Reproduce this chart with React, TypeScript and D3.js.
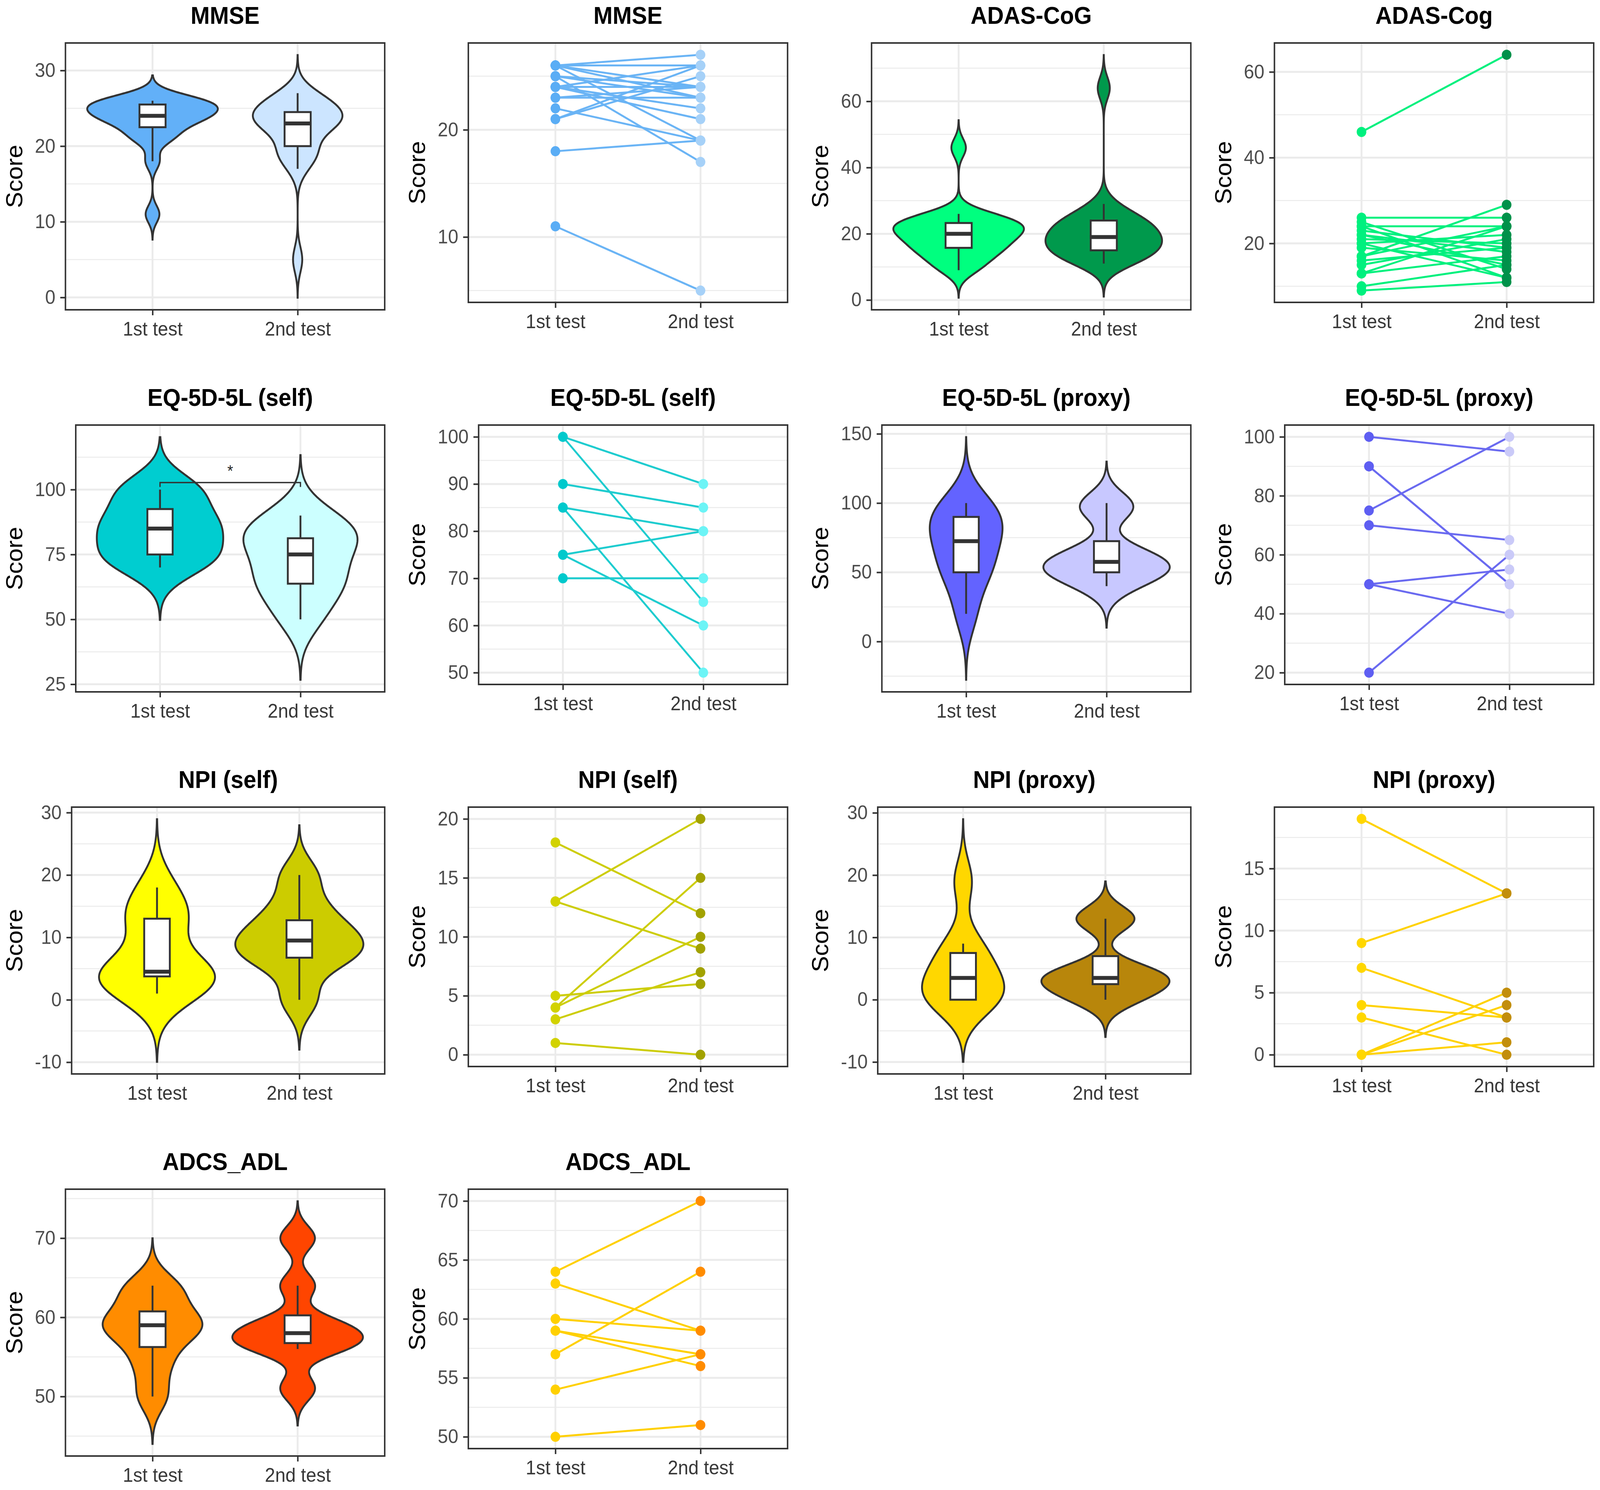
import * as d3 from 'd3'
import * as React from 'react'

//------------------------------data------------------------------
const CATEGORIES = ['1st test', '2nd test']

// paired scores, same subject at the same index
const MMSE_1ST = [26, 26, 26, 26, 26, 25, 25, 25, 24, 24, 24, 24, 23, 23, 22, 21, 21, 18, 11]
const MMSE_2ND = [27, 26, 23, 19, 24, 17, 23, 24, 26, 21, 24, 22, 24, 23, 19, 26, 25, 19, 5]

const ADAS_1ST = [46, 26, 25, 24, 24, 23, 22, 22, 21, 20, 20, 19, 17, 17, 16, 15, 13, 13, 10, 9]
const ADAS_2ND = [64, 26, 14, 12, 24, 19, 18, 15, 20, 22, 12, 16, 29, 24, 19, 21, 17, 24, 15, 11]

const EQ_SELF_1ST = [100, 100, 90, 85, 85, 75, 75, 70]
const EQ_SELF_2ND = [90, 65, 85, 80, 50, 80, 60, 70]

const EQ_PROXY_1ST = [100, 90, 90, 75, 70, 50, 50, 20]
const EQ_PROXY_2ND = [95, 50, 50, 100, 65, 55, 40, 60]

const NPI_SELF_1ST = [18, 13, 13, 4, 4, 5, 3, 1]
const NPI_SELF_2ND = [12, 20, 9, 15, 10, 6, 7, 0]

const NPI_PROXY_1ST = [19, 9, 7, 4, 3, 0, 0, 0]
const NPI_PROXY_2ND = [13, 13, 3, 3, 0, 5, 4, 1]

const ADCS_1ST = [64, 63, 60, 59, 59, 57, 54, 50]
const ADCS_2ND = [70, 59, 59, 57, 56, 64, 57, 51]

// tick labels
const MMSE_VIOLIN_TICKS = [0, 10, 20, 30]
const MMSE_LINE_TICKS = [10, 20]
const ADAS_VIOLIN_TICKS = [0, 20, 40, 60]
const ADAS_LINE_TICKS = [20, 40, 60]
const EQ_SELF_VIOLIN_TICKS = [25, 50, 75, 100]
const EQ_SELF_LINE_TICKS = [50, 60, 70, 80, 90, 100]
const EQ_PROXY_VIOLIN_TICKS = [0, 50, 100, 150]
const EQ_PROXY_LINE_TICKS = [20, 40, 60, 80, 100]
const NPI_SELF_VIOLIN_TICKS = [-10, 0, 10, 20, 30]
const NPI_SELF_LINE_TICKS = [0, 5, 10, 15, 20]
const NPI_PROXY_VIOLIN_TICKS = [-10, 0, 10, 20, 30]
const NPI_PROXY_LINE_TICKS = [0, 5, 10, 15]
const ADCS_VIOLIN_TICKS = [50, 60, 70]
const ADCS_LINE_TICKS = [50, 55, 60, 65, 70]

//------------------------------layout------------------------------
const WIDTH = 4317
const HEIGHT = 3814
const FONT = "'Liberation Sans', Arial, Helvetica, sans-serif"
const TICK_FONT = 50
const TITLE_FONT = 62
const AXIS_TITLE_FONT = 62
const ROW_STEP = 978
const COL_RIGHT = [1038, 2125, 3213, 4300]
const PANEL_TOP = 110
const VIOLIN_BOTTOM = 793
const LINE_BOTTOM = 774
const INK = '#333333'
const GRID = '#EBEBEB'

//------------------------------interface------------------------------
interface PanelSpec {
  kind: 'violin' | 'line'
  title: string
  row: number
  col: number
  first: number[]
  second: number[]
  ticks: number[]
  colors: [string, string]
  lineColor?: string
  signif?: string
}

const PANELS: PanelSpec[] = [
  { kind: 'violin', title: 'MMSE', row: 0, col: 0, first: MMSE_1ST, second: MMSE_2ND, ticks: MMSE_VIOLIN_TICKS, colors: ['#62B0F8', '#CCE5FF'] },
  { kind: 'line', title: 'MMSE', row: 0, col: 1, first: MMSE_1ST, second: MMSE_2ND, ticks: MMSE_LINE_TICKS, colors: ['#5AADF5', '#A6D1F8'], lineColor: '#6AB4F5' },
  { kind: 'violin', title: 'ADAS-CoG', row: 0, col: 2, first: ADAS_1ST, second: ADAS_2ND, ticks: ADAS_VIOLIN_TICKS, colors: ['#00FF7F', '#00994C'] },
  { kind: 'line', title: 'ADAS-Cog', row: 0, col: 3, first: ADAS_1ST, second: ADAS_2ND, ticks: ADAS_LINE_TICKS, colors: ['#00F07E', '#00914A'], lineColor: '#00F07E' },
  { kind: 'violin', title: 'EQ-5D-5L (self)', row: 1, col: 0, first: EQ_SELF_1ST, second: EQ_SELF_2ND, ticks: EQ_SELF_VIOLIN_TICKS, colors: ['#00CDD0', '#CCFFFF'], signif: '*' },
  { kind: 'line', title: 'EQ-5D-5L (self)', row: 1, col: 1, first: EQ_SELF_1ST, second: EQ_SELF_2ND, ticks: EQ_SELF_LINE_TICKS, colors: ['#00C9CC', '#6CF4F6'], lineColor: '#1ECCCF' },
  { kind: 'violin', title: 'EQ-5D-5L (proxy)', row: 1, col: 2, first: EQ_PROXY_1ST, second: EQ_PROXY_2ND, ticks: EQ_PROXY_VIOLIN_TICKS, colors: ['#6363FF', '#C8C8FF'] },
  { kind: 'line', title: 'EQ-5D-5L (proxy)', row: 1, col: 3, first: EQ_PROXY_1ST, second: EQ_PROXY_2ND, ticks: EQ_PROXY_LINE_TICKS, colors: ['#5E5EF2', '#CACAF8'], lineColor: '#6A6AF0' },
  { kind: 'violin', title: 'NPI (self)', row: 2, col: 0, first: NPI_SELF_1ST, second: NPI_SELF_2ND, ticks: NPI_SELF_VIOLIN_TICKS, colors: ['#FFFF00', '#CCCC00'] },
  { kind: 'line', title: 'NPI (self)', row: 2, col: 1, first: NPI_SELF_1ST, second: NPI_SELF_2ND, ticks: NPI_SELF_LINE_TICKS, colors: ['#D2D200', '#A2A200'], lineColor: '#CDCD0A' },
  { kind: 'violin', title: 'NPI (proxy)', row: 2, col: 2, first: NPI_PROXY_1ST, second: NPI_PROXY_2ND, ticks: NPI_PROXY_VIOLIN_TICKS, colors: ['#FFD700', '#B8860B'] },
  { kind: 'line', title: 'NPI (proxy)', row: 2, col: 3, first: NPI_PROXY_1ST, second: NPI_PROXY_2ND, ticks: NPI_PROXY_LINE_TICKS, colors: ['#FFD700', '#C28E0C'], lineColor: '#FFD200' },
  { kind: 'violin', title: 'ADCS_ADL', row: 3, col: 0, first: ADCS_1ST, second: ADCS_2ND, ticks: ADCS_VIOLIN_TICKS, colors: ['#FF8C00', '#FF4500'] },
  { kind: 'line', title: 'ADCS_ADL', row: 3, col: 1, first: ADCS_1ST, second: ADCS_2ND, ticks: ADCS_LINE_TICKS, colors: ['#FFD000', '#FF8C00'], lineColor: '#FFD000' }
]

//------------------------------stats------------------------------
// R's bw.nrd0
const bandwidth = (v: number[]) => {
  const s = v.slice().sort(d3.ascending)
  const iqr = (d3.quantileSorted(s, 0.75) as number) - (d3.quantileSorted(s, 0.25) as number)
  const sd = d3.deviation(s) as number
  return 0.9 * Math.min(sd, iqr / 1.34) * Math.pow(s.length, -0.2)
}

interface DensityPoint {
  y: number
  d: number
}

// gaussian kde, not trimmed (cut = 3 bandwidths)
const density = (v: number[]): DensityPoint[] => {
  const bw = bandwidth(v)
  const lo = (d3.min(v) as number) - 3 * bw
  const hi = (d3.max(v) as number) + 3 * bw
  const k = 1 / (v.length * bw * Math.sqrt(2 * Math.PI))
  return d3.range(300).map(i => {
    const y = lo + ((hi - lo) * i) / 299
    return { y, d: k * d3.sum(v, x => Math.exp(-0.5 * ((y - x) / bw) ** 2)) }
  })
}

const boxStats = (v: number[]) => {
  const s = v.slice().sort(d3.ascending)
  const q1 = d3.quantileSorted(s, 0.25) as number
  const med = d3.quantileSorted(s, 0.5) as number
  const q3 = d3.quantileSorted(s, 0.75) as number
  const iqr = q3 - q1
  const lo = d3.min(s.filter(x => x >= q1 - 1.5 * iqr)) as number
  const hi = d3.max(s.filter(x => x <= q3 + 1.5 * iqr)) as number
  return { q1, med, q3, lo, hi }
}

const labelWidth = (s: string) => d3.sum(s.split(''), c => (c === '-' ? 0.333 : 0.556)) * TICK_FONT

//------------------------------drawPanel------------------------------
const drawPanel = (
  svg: d3.Selection<SVGSVGElement, unknown, null, undefined>,
  p: PanelSpec
) => {
  const right = COL_RIGHT[p.col]
  const colStart = right - 1038
  const rowTop = p.row * ROW_STEP
  const maxLabel = d3.max(p.ticks, t => labelWidth(String(t))) as number
  const left = colStart + 94 + maxLabel + 27
  const top = rowTop + PANEL_TOP
  const bottom = rowTop + (p.kind === 'violin' ? VIOLIN_BOTTOM : LINE_BOTTOM)

  const g = svg.append('g')

  // y range like ggplot: data (or violin) extent plus 5%
  const dens = p.kind === 'violin' ? [density(p.first), density(p.second)] : []
  const all = p.kind === 'violin' ? dens.flat().map(d => d.y) : [...p.first, ...p.second]
  const [lo, hi] = d3.extent(all) as [number, number]
  const pad = (hi - lo) * 0.05
  const y = d3.scaleLinear().domain([lo - pad, hi + pad]).range([bottom, top])
  const x = d3.scaleLinear().domain([0.4, 2.6]).range([left, right])

  // grid
  const step = p.ticks[1] - p.ticks[0]
  const minors = d3
    .range(p.ticks.length + 1)
    .map(i => p.ticks[0] - step / 2 + i * step)
    .filter(v => v > y.domain()[0] && v < y.domain()[1])
  g.append('rect').attr('x', left).attr('y', top).attr('width', right - left).attr('height', bottom - top).attr('fill', '#fff')
  g.selectAll('line.minor')
    .data(minors)
    .join('line')
    .attr('x1', left).attr('x2', right)
    .attr('y1', d => y(d)).attr('y2', d => y(d))
    .attr('stroke', GRID).attr('stroke-width', 2.5)
  g.selectAll('line.majorY')
    .data(p.ticks)
    .join('line')
    .attr('x1', left).attr('x2', right)
    .attr('y1', d => y(d)).attr('y2', d => y(d))
    .attr('stroke', GRID).attr('stroke-width', 5)
  g.selectAll('line.majorX')
    .data([1, 2])
    .join('line')
    .attr('x1', d => x(d)).attr('x2', d => x(d))
    .attr('y1', top).attr('y2', bottom)
    .attr('stroke', GRID).attr('stroke-width', 5)

  if (p.kind === 'violin') {
    const maxD = d3.max(dens.flat(), d => d.d) as number
    dens.forEach((ds, i) => {
      const cat = i + 1
      const area = d3
        .area<DensityPoint>()
        .y(d => y(d.y))
        .x0(d => x(cat - (d.d / maxD) * 0.45))
        .x1(d => x(cat + (d.d / maxD) * 0.45))
      g.append('path')
        .attr('d', area(ds))
        .attr('fill', p.colors[i])
        .attr('stroke', INK)
        .attr('stroke-width', 5)
    })
    ;[p.first, p.second].forEach((v, i) => {
      const cat = i + 1
      const b = boxStats(v)
      const bw = 0.09
      g.append('line').attr('x1', x(cat)).attr('x2', x(cat)).attr('y1', y(b.q3)).attr('y2', y(b.hi)).attr('stroke', INK).attr('stroke-width', 5)
      g.append('line').attr('x1', x(cat)).attr('x2', x(cat)).attr('y1', y(b.q1)).attr('y2', y(b.lo)).attr('stroke', INK).attr('stroke-width', 5)
      g.append('rect')
        .attr('x', x(cat - bw)).attr('y', y(b.q3))
        .attr('width', x(cat + bw) - x(cat - bw)).attr('height', y(b.q1) - y(b.q3))
        .attr('fill', '#fff').attr('stroke', INK).attr('stroke-width', 5)
      g.append('line')
        .attr('x1', x(cat - bw)).attr('x2', x(cat + bw))
        .attr('y1', y(b.med)).attr('y2', y(b.med))
        .attr('stroke', INK).attr('stroke-width', 10)
    })
    if (p.signif) {
      const barY = 102.7
      const tipY = 101
      g.append('path')
        .attr('d', `M${x(1)},${y(tipY)}V${y(barY)}H${x(2)}V${y(tipY)}`)
        .attr('fill', 'none').attr('stroke', INK).attr('stroke-width', 3.5)
      g.append('text')
        .attr('x', x(1.5)).attr('y', y(barY) - 16)
        .attr('text-anchor', 'middle')
        .attr('font-family', FONT).attr('font-size', 40).attr('fill', '#222')
        .text(p.signif)
    }
  } else {
    const pairs = p.first.map((a, i) => ({ a, b: p.second[i] }))
    g.selectAll('line.pair')
      .data(pairs)
      .join('line')
      .attr('x1', x(1)).attr('x2', x(2))
      .attr('y1', d => y(d.a)).attr('y2', d => y(d.b))
      .attr('stroke', p.lineColor || p.colors[0])
      .attr('stroke-width', 5)
    ;[p.first, p.second].forEach((v, i) => {
      g.selectAll(`circle.g${i}`)
        .data(v)
        .join('circle')
        .attr('cx', x(i + 1))
        .attr('cy', d => y(d))
        .attr('r', 13)
        .attr('fill', p.colors[i])
    })
  }

  // border
  g.append('rect')
    .attr('x', left).attr('y', top).attr('width', right - left).attr('height', bottom - top)
    .attr('fill', 'none').attr('stroke', INK).attr('stroke-width', 4)

  // axes
  const yAxis = g
    .append('g')
    .attr('transform', `translate(${left},0)`)
    .call(d3.axisLeft(y).tickValues(p.ticks).tickFormat(d => String(d)).tickSize(14).tickPadding(13))
  yAxis.select('.domain').remove()
  yAxis.attr('font-family', FONT).attr('font-size', TICK_FONT)
  yAxis.selectAll('.tick line').attr('stroke', INK).attr('stroke-width', 4)
  yAxis.selectAll('.tick text').attr('fill', '#4D4D4D')

  const xAxis = g
    .append('g')
    .attr('transform', `translate(0,${bottom})`)
    .call(d3.axisBottom(x).tickValues([1, 2]).tickFormat(d => CATEGORIES[(d as number) - 1]).tickSize(14).tickPadding(17))
  xAxis.select('.domain').remove()
  xAxis.attr('font-family', FONT).attr('font-size', TICK_FONT)
  xAxis.selectAll('.tick line').attr('stroke', INK).attr('stroke-width', 4)
  xAxis.selectAll('.tick text').attr('fill', '#383838')

  // titles
  g.append('text')
    .attr('x', (left + right) / 2).attr('y', rowTop + 61)
    .attr('text-anchor', 'middle')
    .attr('font-family', FONT).attr('font-weight', 'bold').attr('font-size', TITLE_FONT)
    .attr('fill', '#000')
    .text(p.title)
  g.append('text')
    .attr('transform', `translate(${colStart + 38},${(top + bottom) / 2}) rotate(-90)`)
    .attr('text-anchor', 'middle')
    .attr('dy', '0.35em')
    .attr('font-family', FONT).attr('font-size', AXIS_TITLE_FONT)
    .attr('fill', '#000')
    .text('Score')
}

//------------------------------Component------------------------------
export default function App() {
  const svgRef = React.useRef<SVGSVGElement>(null)

  React.useEffect(() => {
    document.body.style.margin = '0'
    document.body.style.overflow = 'hidden'
    if (!svgRef.current) return
    const svg = d3.select(svgRef.current)
    svg.selectAll('*').remove()
    svg.append('rect').attr('width', WIDTH).attr('height', HEIGHT).attr('fill', '#fff')
    PANELS.forEach(p => drawPanel(svg, p))
  }, [])

  // the drawing is stretched over the whole viewport, whatever its css size
  return (
    <svg
      ref={svgRef}
      viewBox={`0 0 ${WIDTH} ${HEIGHT}`}
      preserveAspectRatio="none"
      style={{ display: 'block', width: '100vw', height: '100vh' }}
    />
  )
}
